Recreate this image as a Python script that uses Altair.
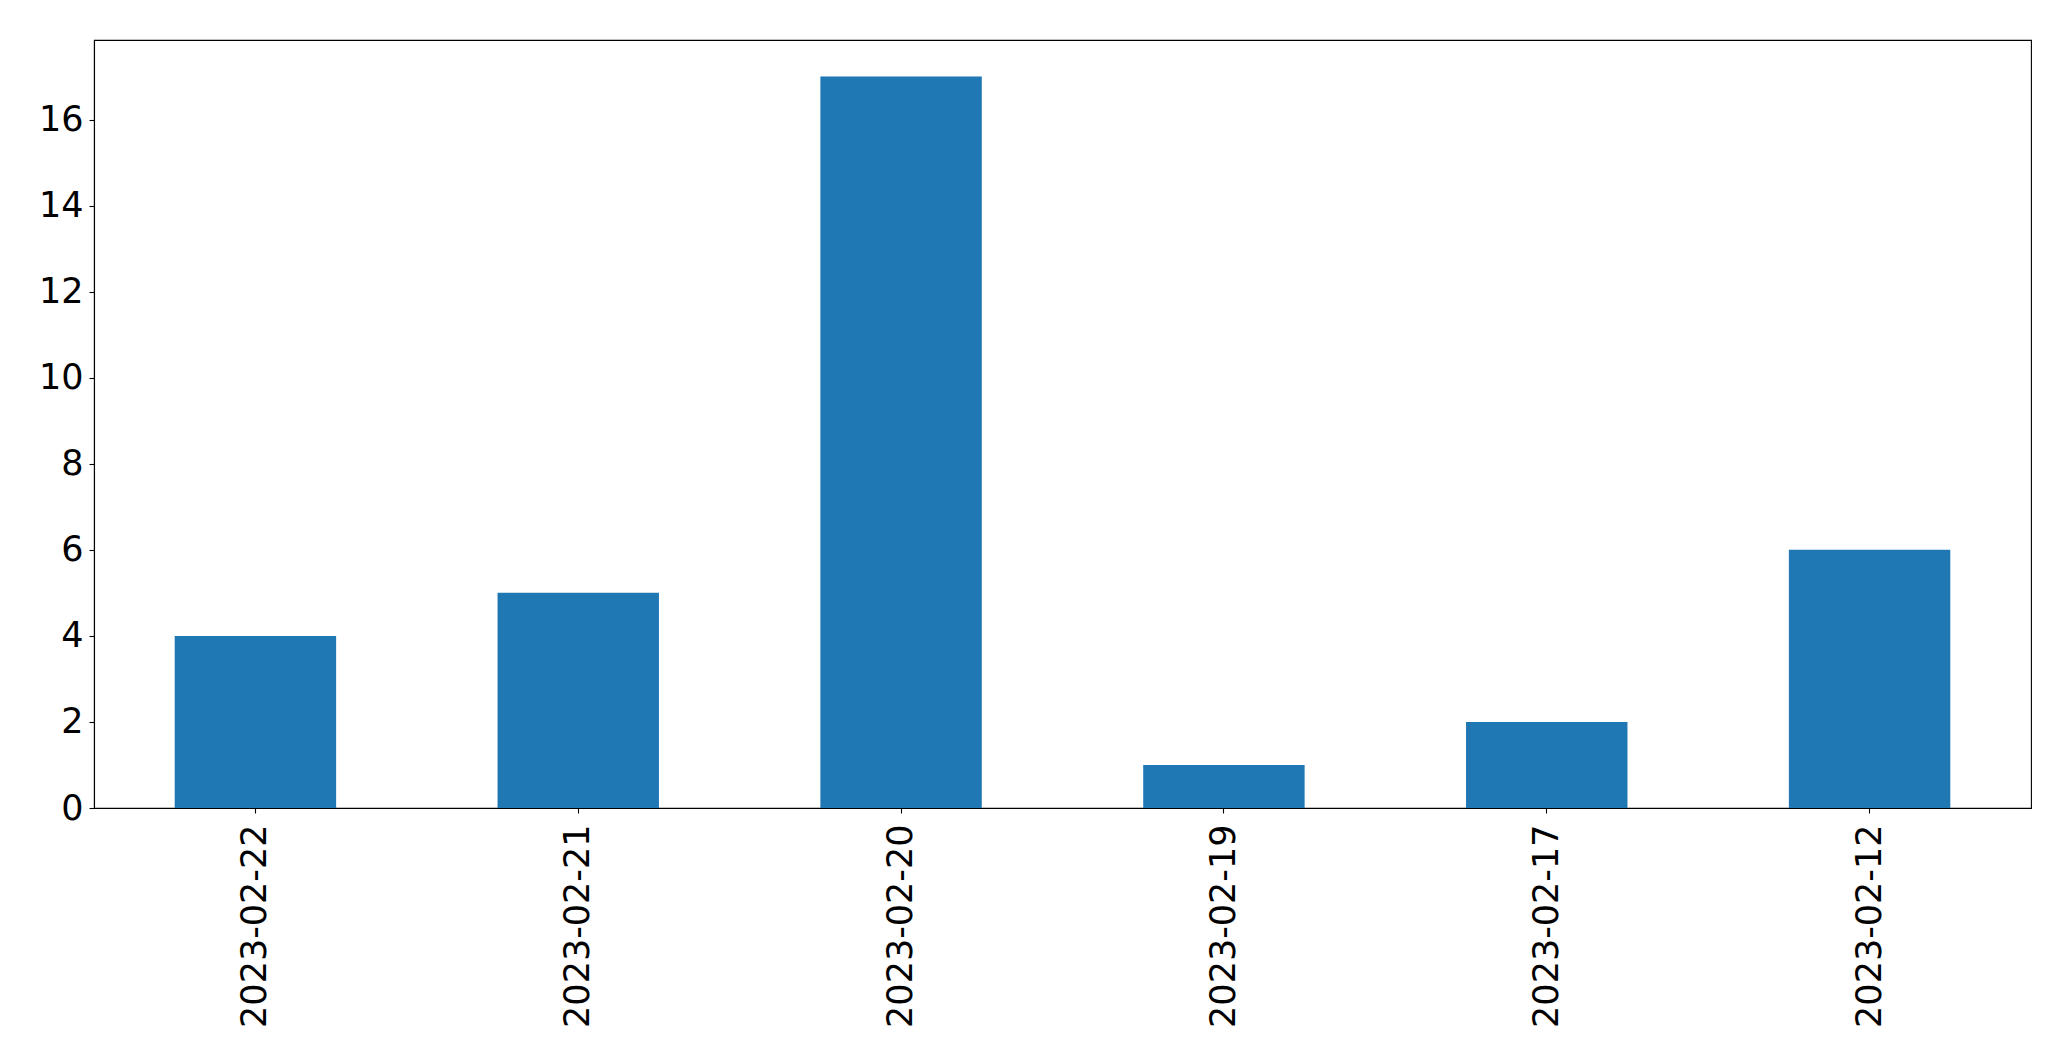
import altair as alt
import pandas as pd

dates = ["2023-02-22", "2023-02-21", "2023-02-20", "2023-02-19", "2023-02-17", "2023-02-12"]
counts = [4, 5, 17, 1, 2, 6]
y_ticks = [0, 2, 4, 6, 8, 10, 12, 14, 16]

df = pd.DataFrame({"date": dates, "count": counts})

FONT = "DejaVu Sans"
FS = 35

chart = alt.Chart(df).mark_bar(color="#1f77b4").encode(
    x=alt.X("date:N", sort=dates, title=None,
            scale=alt.Scale(paddingInner=0.5, paddingOuter=0.25),
            axis=alt.Axis(labelAngle=270, labelAlign="right", labelBaseline="middle",
                          labelPadding=11, labelFontSize=FS, labelFont=FONT,
                          labelColor="black", tickColor="black", tickSize=5,
                          tickWidth=1.1, domainColor="black", domainWidth=1.1,
                          grid=False, labelOverlap=False, labelLimit=0)),
    y=alt.Y("count:Q", title=None,
            scale=alt.Scale(domain=[0, 17.85], nice=False, zero=True),
            axis=alt.Axis(values=y_ticks, labelFontSize=FS, labelFont=FONT,
                          labelColor="black", tickColor="black", tickSize=5,
                          tickWidth=1.1, domainColor="black", domainWidth=1.1,
                          labelPadding=6, grid=False, minExtent=86, labelFlush=False,
                          labelLimit=0)),
).properties(
    width=1937, height=768,
    background="white",
    padding={"left": 0, "top": 32, "right": 20, "bottom": 10},
).configure_view(
    stroke="black", strokeWidth=1.1,
)

chart.save("out.html", embed_options={"renderer": "svg", "actions": False})
